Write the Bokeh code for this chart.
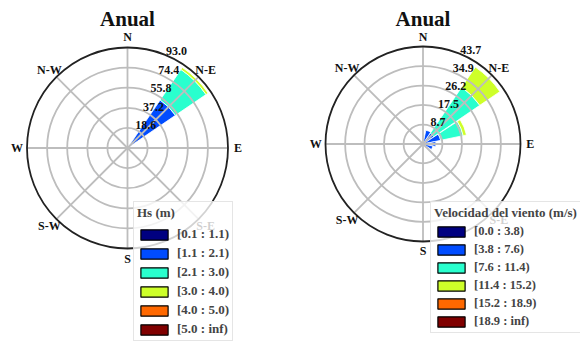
import numpy as np
from bokeh.plotting import figure
from bokeh.models import Range1d, Legend, LegendItem, ColumnDataSource
from bokeh.layouts import row
from bokeh.embed import file_html
from bokeh.resources import INLINE
from bokeh.core.properties import value

# ---------------- data ----------------
SECTORS = [0.0, 22.5, 45.0, 67.5, 90.0, 112.5, 135.0, 157.5,
           180.0, 202.5, 225.0, 247.5, 270.0, 292.5, 315.0, 337.5]
COMPASS_LABELS = ["N", "N-E", "E", "S-E", "S", "S-W", "W", "N-W"]
COMPASS_ANGLES = [0, 45, 90, 135, 180, 225, 270, 315]
BIN_COLORS = ["#000080", "#004cff", "#29ffce", "#ceff29", "#ff6800", "#800000"]

# Left rose: significant wave height
HS_TITLE = "Anual"
HS_LEGEND_TITLE = "Hs (m)"
HS_BIN_LABELS = ["[0.1 : 1.1)", "[1.1 : 2.1)", "[2.1 : 3.0)",
                 "[3.0 : 4.0)", "[4.0 : 5.0)", "[5.0 : inf)"]
HS_TICKS = [18.6, 37.2, 55.8, 74.4, 93.0]
HS_B0 = [0, 0, 1.2, 0, 0, 0, 0, 0, 0, 0, 0, 0, 0, 0, 0, 0]
HS_B1 = [0, 0, 52.5, 0, 0, 0, 0, 0, 0, 0, 0, 0, 0, 0, 0, 0]
HS_B2 = [0, 0, 34.2, 0, 0, 0, 0, 0, 0, 0, 0, 0, 0, 0, 0, 0]
HS_B3 = [0, 0, 2.3, 0, 0, 0, 0, 0, 0, 0, 0, 0, 0, 0, 0, 0]
HS_B4 = [0, 0, 0, 0, 0, 0, 0, 0, 0, 0, 0, 0, 0, 0, 0, 0]
HS_B5 = [0, 0, 0, 0, 0, 0, 0, 0, 0, 0, 0, 0, 0, 0, 0, 0]

# Right rose: wind speed
WS_TITLE = "Anual"
WS_LEGEND_TITLE = "Velocidad del viento (m/s)"
WS_BIN_LABELS = ["[0.0 : 3.8)", "[3.8 : 7.6)", "[7.6 : 11.4)",
                 "[11.4 : 15.2)", "[15.2 : 18.9)", "[18.9 : inf)"]
WS_TICKS = [8.7, 17.5, 26.2, 34.9, 43.7]
WS_B0 = [0, 0.5, 0.5, 0.5, 0.5, 0.5, 0, 0, 0, 0, 0, 0, 0, 0, 0, 0]
WS_B1 = [0, 5.8, 5.3, 7.6, 5.3, 4.0, 0, 0, 0, 0, 0, 0, 0, 0, 0, 0]
WS_B2 = [0, 0, 25.0, 10.3, 0, 0, 0, 0, 0, 0, 0, 0, 0, 0, 0, 0]
WS_B3 = [0, 0, 10.9, 1.5, 0, 0, 0, 0, 0, 0, 0, 0, 0, 0, 0, 0]
WS_B4 = [0, 0, 0, 0, 0, 0, 0, 0, 0, 0, 0, 0, 0, 0, 0, 0]
WS_B5 = [0, 0, 0, 0, 0, 0, 0, 0, 0, 0, 0, 0, 0, 0, 0, 0]

# ---------------- drawing ----------------
H = 341
SERIF = "Liberation Serif"
GRID = "#bdbdbd"


def rose(width, cx, cy, rpx, ticks, bins, bin_labels, title, leg_title,
         leg_loc, leg_font, leg_title_font, leg_standoff, leg_padding):
    rmax = ticks[-1]
    s = rpx / rmax
    p = figure(width=width, height=H, output_backend="svg", toolbar_location=None,
               x_range=Range1d(-cx / s, (width - cx) / s),
               y_range=Range1d(-(H - cy) / s, cy / s),
               x_axis_type=None, y_axis_type=None, min_border=0,
               outline_line_color=None, background_fill_color="white",
               border_fill_color="white")

    hw = 10.75
    sect = np.array(SECTORS)
    cum = np.zeros(len(SECTORS))
    for k, vals in enumerate(bins):
        vals = np.array(vals, dtype=float)
        m = vals > 0
        src = ColumnDataSource(dict(
            inner=cum[m], outer=(cum + vals)[m],
            start=np.radians(90 - sect[m] - hw), end=np.radians(90 - sect[m] + hw)))
        p.annular_wedge(x=0, y=0, inner_radius="inner", outer_radius="outer",
                        start_angle="start", end_angle="end",
                        fill_color=BIN_COLORS[k], line_color="white", line_width=0.8,
                        source=src)
        cum = cum + vals

    # grid
    p.circle(x=0, y=0, radius=ticks[:-1], fill_color=None,
             line_color=GRID, line_width=1.8)
    p.ray(x=0, y=0, length=rmax, angle=np.radians(90 - np.array(COMPASS_ANGLES)),
          line_color=GRID, line_width=1.8)
    p.circle(x=0, y=0, radius=[rmax], fill_color=None,
             line_color="#222222", line_width=1.8)

    # direction labels
    a = np.radians(COMPASS_ANGLES)
    p.text(x=1.1 * rmax * np.sin(a), y=1.1 * rmax * np.cos(a), text=COMPASS_LABELS,
           text_align="center", text_baseline="middle", text_font=value(SERIF),
           text_font_style="bold", text_font_size="12px", text_color="#111111")
    # radial tick labels
    t = np.array(ticks)
    ta = np.radians(22.5)
    p.text(x=t * np.sin(ta), y=t * np.cos(ta), text=[f"{v:.1f}" for v in ticks],
           text_align="left", text_baseline="bottom", text_font=value(SERIF),
           text_font_style="bold", text_font_size="12px", text_color="#111111")
    # title
    p.text(x=[0], y=[1.285 * rmax], text=[title], text_align="center",
           text_baseline="middle", text_font=value(SERIF), text_font_style="bold",
           text_font_size="21px", text_color="#111111")

    items = []
    for k, lab in enumerate(bin_labels):
        nan = np.array([np.nan])
        r = p.quad(left=nan, right=nan, top=nan, bottom=nan, fill_color=BIN_COLORS[k],
                   line_color="black", line_width=1.2)
        items.append(LegendItem(label=lab, renderers=[r]))
    leg = Legend(items=items, location=leg_loc, title=leg_title,
                 title_text_font=SERIF, title_text_font_style="bold",
                 title_text_font_size=leg_title_font, title_standoff=leg_standoff,
                 label_text_font=SERIF, label_text_font_style="bold",
                 label_text_font_size=leg_font,
                 glyph_width=34, glyph_height=13, label_height=15,
                 label_standoff=6, spacing=3, padding=leg_padding, margin=0,
                 background_fill_color="white", background_fill_alpha=0.8,
                 border_line_color="#cccccc", border_line_width=1)
    p.add_layout(leg)
    return p


W1 = 291
W2 = 289
p1 = rose(W1, 127, 147.5, 100.5, HS_TICKS,
          [HS_B0, HS_B1, HS_B2, HS_B3, HS_B4, HS_B5], HS_BIN_LABELS,
          HS_TITLE, HS_LEGEND_TITLE, (133, 0), "13px", "13px", 5, 3)
p2 = rose(W2, 422.5 - W1, 143.5, 97.5, WS_TICKS,
          [WS_B0, WS_B1, WS_B2, WS_B3, WS_B4, WS_B5], WS_BIN_LABELS,
          WS_TITLE, WS_LEGEND_TITLE, (430 - W1, 8), "12.5px", "13px", 3, 3)

layout = row(p1, p2)
open("out.html", "w").write(file_html(layout, INLINE))
